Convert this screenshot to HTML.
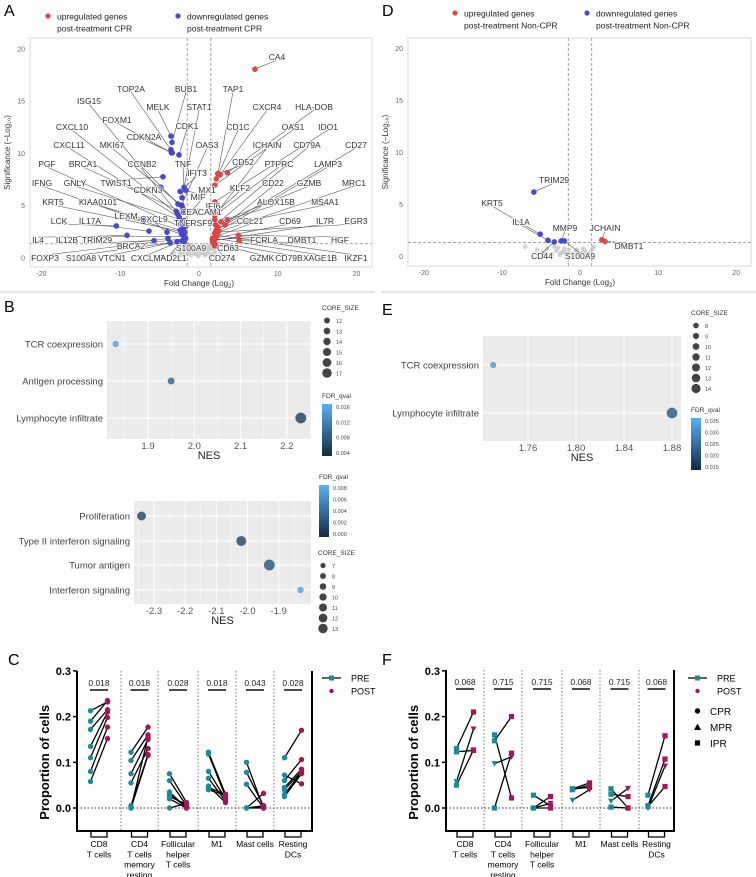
<!DOCTYPE html>
<html><head><meta charset="utf-8"><style>
html,body{margin:0;padding:0;background:#fff;}
svg{display:block;font-family:"Liberation Sans",sans-serif;}
</style></head><body>
<svg id="fig" width="756" height="877" viewBox="0 0 756 877" xmlns="http://www.w3.org/2000/svg">
<g font-size="16" fill="#000">
<text x="4" y="16">A</text>
<text x="4" y="312">B</text>
<text x="8" y="665">C</text>
<text x="382" y="16">D</text>
<text x="382" y="315">E</text>
<text x="382" y="665">F</text>
</g>
<line x1="0" y1="292" x2="375" y2="292" stroke="#ddd" stroke-width="1.5"/>
<line x1="381" y1="292" x2="756" y2="292" stroke="#ddd" stroke-width="1.5"/>
</svg>
<script>
// ---------- DATA ----------
// Panel A volcano (CPR)
const aLabeledGenes = ["CA4","TOP2A","BUB1","TAP1","ISG15","MELK","STAT1","CXCR4","HLA-DOB","CXCL10","FOXM1","CDK1","CD1C","OAS1","IDO1","CXCL11","MKI67","CDKN2A","OAS3","ICHAIN","CD79A","CD27","PGF","BRCA1","CCNB2","TNF","CD52","PTPRC","LAMP3","IFNG","GNLY","TWIST1","IFIT3","MX1","KLF2","CD22","GZMB","MRC1","KRT5","KIAA0101","CDKN3","MIF","IFI6","ALOX15B","MS4A1","LCK","IL17A","LEXM","CXCL9","CEACAM1","TNFRSF9","CCL21","CD69","IL7R","EGR3","IL4","IL12B","TRIM29","BRCA2","FCRLA","DMBT1","HGF","CD83","FOXP3","S100A8","VTCN1","CXCL13","MAD2L1","S100A9","CD274","GZMK","CD79B","XAGE1B","IKZF1"];
const aLabeledFC = [7.1,-3.56,-3.43,2.4,-2.9,-3.56,-2.16,2.7,3.6,-2.67,-3.5,-2.54,2.2,2.0,2.0,-2.5,-2.16,-3.4,-2.2,2.3,2.1,2.2,-2.0,-2.03,-2.67,-1.9,2.4,2.0,2.5,-2.2,-1.9,-4.57,-2.4,-2.3,2.0,3.3,2.8,2.0,-1.8,-2.4,-4.83,-1.65,2.0,3.6,2.4,-10.5,-6.35,-6.98,-4.06,-2.0,-1.7,2.2,1.7,1.8,2.1,-1.9,-9.14,-5.71,-3.94,2.0,5.1,5.0,2.0,-1.7,-3.68,-2.79,-2.1,-1.8,-1.9,2.0,1.9,1.7,2.1,2.3];
const aLabeledSig = [18.0,10.3,11.0,8.0,4.4,11.6,5.7,7.9,8.1,4.1,10.0,9.8,7.5,6.9,5.3,3.8,4.9,10.0,5.0,4.3,3.1,2.6,2.8,4.3,5.1,6.7,8.0,4.0,2.5,2.2,3.5,7.7,6.3,3.2,4.2,3.1,3.4,2.3,2.4,2.6,6.7,6.4,3.6,3.6,2.9,3.0,2.5,3.5,2.4,4.6,3.0,2.0,1.8,1.6,2.4,2.0,2.1,1.6,1.8,1.7,1.6,2.1,1.2,1.8,1.4,1.5,1.6,1.9,1.5,1.1,1.3,1.5,1.8,2.1];
const aGreyFC = [-3.2,-2.8,-2.5,-2.2,-1.9,-1.6,-1.3,-1.0,-0.7,-0.4,-0.1,0.2,0.5,0.8,1.1,1.4,1.7,-2.6,-2.0,-1.5,-0.9,-0.3,0.4,1.0,1.5,-1.8,-1.2,-0.6,0.1,0.7,1.3,-2.3,-1.1,0.3,1.2,-3.5,2.0,1.8,-1.4,0.6];
const aGreySig = [0.4,0.8,0.3,0.9,0.6,1.0,0.5,0.2,0.7,0.3,0.1,0.4,0.8,0.2,0.6,0.9,0.3,0.1,0.2,0.3,1.1,0.6,0.5,0.9,0.1,1.2,0.9,0.4,0.7,0.3,1.1,0.5,0.7,1.0,0.4,0.2,0.5,0.8,1.25,1.15];
// Panel D volcano (Non-CPR)
const dLabeledGenes = ["TRIM29","KRT5","IL1A","CD44","MMP9","S100A9","JCHAIN","DMBT1"];
const dLabeledFC = [-5.9,-5.1,-4.1,-3.3,-2.4,-2.0,2.8,3.2];
const dLabeledSig = [6.15,2.1,1.5,1.35,1.45,1.45,1.55,1.4];
const dGreyFC = [-7.0,-5.5,-4.8,-4.2,-3.6,-3.0,-2.6,-2.2,-1.8,-1.4,-1.0,-0.6,-0.2,0.2,0.6,1.0,1.4,1.8,-3.3,-2.8,-2.0,-1.2,-0.4,0.4,1.2,-4.5,-1.6,0.8,1.6,-2.4];
const dGreySig = [0.9,0.6,0.3,0.7,0.2,0.5,0.1,0.4,0.3,0.6,0.2,0.4,0.1,0.3,0.5,0.2,0.4,0.9,0.9,0.8,0.7,0.1,0.6,0.7,0.1,0.2,0.2,0.3,0.7,0.3];
// Panel B top GSEA
const bTopTerms = ["TCR coexpression","Antigen processing","Lymphocyte infiltrate"];
const bTopNES = [1.83,1.95,2.23];
const bTopFDR = [0.016,0.009,0.004];
const bTopCore = [12,13,17];
// Panel B bottom
const bBotTerms = ["Proliferation","Type II interferon signaling","Tumor antigen","Interferon signaling"];
const bBotNES = [-2.34,-2.02,-1.93,-1.83];
const bBotFDR = [0.002,0.002,0.003,0.008];
const bBotCore = [11,12,13,8];
// Panel E
const eTerms = ["TCR coexpression","Lymphocyte infiltrate"];
const eNES = [1.731,1.88];
const eFDR = [0.036,0.022];
const eCore = [8,14];
// Panel C
const cellTypes = [["CD8","T cells"],["CD4","T cells","memory","resting"],["Follicular","helper","T cells"],["M1"],["Mast cells"],["Resting","DCs"]];
const cPvals = ["0.018","0.018","0.028","0.018","0.043","0.028"];
const cPre = [[.213,.19,.172,.135,.11,.08,.058],[.122,.104,.075,.055,.005,0,0],[.075,.06,.035,.03,.025,.02,0],[.122,.118,.08,.065,.048,.045,.04],[.1,.078,.052,0,0,0,0],[.11,.072,.06,.045,.04,.03,.025]];
const cPost = [[.232,.235,.215,.21,.198,.177,.152],[.177,.16,.15,.13,.117,.155,.115],[.012,.005,0,.002,.008,0,.01],[.03,.025,.02,.015,.012,.03,.028],[0,.005,0,.032,.005,.003,0],[.17,.053,.106,.085,.08,.078,.075]];
// Panel F
const fPvals = ["0.068","0.715","0.715","0.068","0.715","0.068"];
const fPre = [[.13,.123,.058,.05],[.147,.16,.097,0],[.028,0,0,0],[.042,.042,.017,.04],[.042,.03,.015,.002],[.028,.005,0,.003]];
const fPost = [[.21,.126,.173,.127],[.2,.022,.112,.12],[.005,.025,.01,0],[.055,.045,.04,.05],[0,.025,.043,0],[.158,.107,.092,.047]];
const fShapes = ["square","square","triangle","square"];
const yTicks = [0,0.1,0.2,0.3];

// ---------- HELPERS ----------
const NS="http://www.w3.org/2000/svg";
const svg=document.getElementById('fig');
function mk(tag,attrs,parent,name){
  const el=document.createElementNS(NS,tag);
  for(const k in attrs) el.setAttribute(k,attrs[k]);
  
  
  (parent||svg).appendChild(el);
  return el;
}
function txt(s,x,y,attrs,parent,name){const t=mk('text',Object.assign({x:x,y:y},attrs),parent,name);t.textContent=s;return t;}

// ---------- VOLCANO ----------
function volcano(o){
  const g=mk('g',{},svg,o.name);
  const xs=v=>o.x0+v*o.kx, ys=v=>o.y0-v*o.ky;
  mk('rect',{x:o.bx0,y:o.by0,width:o.bx1-o.bx0,height:o.by1-o.by0,fill:'#fff',stroke:'#d9d9d9','stroke-width':1},g,'plot-area');
  [-20,-10,0,10,20].forEach(v=>{txt(String(v),xs(v),o.by1+9,{'font-size':7,fill:'#666','text-anchor':'middle'},g,'x-tick-label');});
  [0,5,10,15,20].forEach(v=>{txt(String(v),o.bx0-5,ys(v)+3,{'font-size':7,fill:'#666','text-anchor':'end'},g,'y-tick-label');});
  const xt=txt('Fold Change (Log',xs(0),o.by1+19,{'font-size':8,fill:'#333','text-anchor':'middle'},g,'x-axis-title');
  const sub=document.createElementNS(NS,'tspan');sub.setAttribute('font-size','6');sub.setAttribute('dy','2');sub.textContent='2';xt.appendChild(sub);
  const sub2=document.createElementNS(NS,'tspan');sub2.setAttribute('dy','-2');sub2.textContent=')';xt.appendChild(sub2);
  const cy=(o.by0+o.by1)/2;
  txt('Significance (\u2212Log\u2081\u2080)',o.bx0-20,cy,{'font-size':8,fill:'#333','text-anchor':'middle',transform:`rotate(-90 ${o.bx0-20} ${cy})`},g,'y-axis-title');
  [-1.5,1.5].forEach(v=>mk('line',{x1:xs(v),x2:xs(v),y1:o.by0,y2:o.by1,stroke:'#888','stroke-dasharray':'3,2','stroke-width':0.8},g,'fold-threshold-line'));
  mk('line',{x1:o.bx0,x2:o.bx1,y1:ys(1.3),y2:ys(1.3),stroke:'#888','stroke-dasharray':'3,2','stroke-width':0.8},g,'significance-threshold-line');
  o.gfc.forEach((v,i)=>mk('circle',{cx:xs(v),cy:ys(o.gsig[i]),r:2.3,fill:'#c8c8c8','fill-opacity':0.8},g,'gene-point-ns'));
  o.lfc.forEach((v,i)=>{
    const p=[xs(v),ys(o.lsig[i])], l=o.lpos[i];
    mk('line',{x1:p[0],y1:p[1],x2:l[0],y2:l[1]+(l[1]<p[1]?3:-3),stroke:'#555','stroke-width':0.6},g,'leader-line');
  });
  o.lfc.forEach((v,i)=>mk('circle',{cx:xs(v),cy:ys(o.lsig[i]),r:2.6,fill:v<0?'#4a4ad0':'#e04848',stroke:v<0?'#3333aa':'#b33','stroke-width':0.4},g,v<0?'down-gene-point':'up-gene-point'));
  o.lfc.forEach((v,i)=>{const l=o.lpos[i];const t=txt(o.lnames[i],l[0],l[1]+3,{'font-size':8.5,fill:'#333','text-anchor':'middle'},g,'gene-label');t.setAttribute('paint-order','stroke');t.setAttribute('stroke','#fff');t.setAttribute('stroke-width','1.5');});
  mk('circle',{cx:o.leg[0],cy:o.leg[1],r:2.6,fill:'#e04848'},g,'legend-up-marker');
  txt('upregulated genes',o.leg[0]+9,o.leg[1]+3.5,{'font-size':8.5,fill:'#222'},g,'legend-up-label');
  txt(o.upTxt,o.leg[0]+9,o.leg[1]+15.5,{'font-size':8.5,fill:'#222'},g,'legend-up-label-line2');
  mk('circle',{cx:o.leg[2],cy:o.leg[1],r:2.6,fill:'#4a4ad0'},g,'legend-down-marker');
  txt('downregulated genes',o.leg[2]+9,o.leg[1]+3.5,{'font-size':8.5,fill:'#222'},g,'legend-down-label');
  txt(o.dnTxt,o.leg[2]+9,o.leg[1]+15.5,{'font-size':8.5,fill:'#222'},g,'legend-down-label-line2');
}
const aLabelPos=[[277,57],[131,89],[186,89],[233,89],[89,101],[158,107],[199,107],[267,107],[314,107],[72,127],[117,120],[187,126],[238,127],[293,127],[328,127],[69,145],[112,145],[144,137],[207,145],[267,145],[307,145],[356,145],[47,164],[83,164],[142,164],[183,164],[243,162],[279,164],[328,164],[42,183],[75,183],[116,183],[197,173],[207,190],[240,188],[273,183],[309,183],[354,183],[53,202],[98,202],[148,190],[198,197],[213,206],[276,202],[325,202],[59,221],[90,221],[126,216],[154,219],[201,212],[193,223],[250,221],[290,221],[325,221],[356,221],[38,240],[67,240],[97,240],[131,246],[264,240],[302,240],[340,240],[228,248],[45,258],[81,258],[112,258],[147,258],[170,258],[191,248],[222,258],[262,258],[289,258],[320,258],[356,258]];
volcano({name:'volcano-a',x0:199,kx:7.875,y0:257.3,ky:10.45,bx0:30,bx1:372,by0:38,by1:267,gfc:aGreyFC,gsig:aGreySig,lfc:aLabeledFC,lsig:aLabeledSig,lnames:aLabeledGenes,lpos:aLabelPos,leg:[48,16,178],upTxt:'post-treatment  CPR',dnTxt:'post-treatment CPR'});
const dLabelPos=[[554,180],[492,203],[521,222],[542,256],[565,228],[580,256],[605,228],[629,246]];
volcano({name:'volcano-d',x0:580,kx:7.81,y0:256,ky:10.4,bx0:408,bx1:751,by0:38,by1:266,gfc:dGreyFC,gsig:dGreySig,lfc:dLabeledFC,lsig:dLabeledSig,lnames:dLabeledGenes,lpos:dLabelPos,leg:[455,13,587],upTxt:'post-treatment Non-CPR',dnTxt:'post-treatment Non-CPR'});

// ---------- DOT PLOTS ----------
function lerpCol(t){
  const a=[19,43,67],b=[86,177,247];
  return 'rgb('+a.map((v,i)=>Math.round(v+(b[i]-v)*t)).join(',')+')';
}
function ptCol(t){ // point colours appear slightly washed out
  const a=[58,76,96],b=[100,182,245];
  return 'rgb('+a.map((v,i)=>Math.round(v+(b[i]-v)*t)).join(',')+')';
}
function dotplot(o){
  const g=mk('g',{},svg,o.name);
  const xs=v=>o.tx0+(v-o.t0)*o.k;
  mk('rect',{x:o.x0,y:o.y0,width:o.x1-o.x0,height:o.y1-o.y0,fill:'#ebebeb'},g,'plot-panel');
  o.ticks.forEach((v,i)=>{
    mk('line',{x1:xs(v),x2:xs(v),y1:o.y0,y2:o.y1,stroke:'#fff','stroke-width':0.9},g,'grid-major-x');
    if(i<o.ticks.length-1){const m=xs((v+o.ticks[i+1])/2);mk('line',{x1:m,x2:m,y1:o.y0,y2:o.y1,stroke:'#fff','stroke-width':0.4},g,'grid-minor-x');}
    txt(o.tlabels[i],xs(v),o.y1+10,{'font-size':9.5,fill:'#555','text-anchor':'middle'},g,'x-tick-label');
  });
  const m0=xs(o.ticks[0]-(o.ticks[1]-o.ticks[0])/2); if(m0>o.x0) mk('line',{x1:m0,x2:m0,y1:o.y0,y2:o.y1,stroke:'#fff','stroke-width':0.4},g,'grid-minor-x');
  const ml=xs(o.ticks[o.ticks.length-1]+(o.ticks[1]-o.ticks[0])/2); if(ml<o.x1) mk('line',{x1:ml,x2:ml,y1:o.y0,y2:o.y1,stroke:'#fff','stroke-width':0.4},g,'grid-minor-x');
  txt('NES',(o.x0+o.x1)/2,o.y1+20,{'font-size':11,fill:'#222','text-anchor':'middle'},g,'x-axis-title');
  o.terms.forEach((t,i)=>{
    const y=o.rows[i];
    mk('line',{x1:o.x0,x2:o.x1,y1:y,y2:y,stroke:'#fff','stroke-width':0.9},g,'grid-major-y');
    txt(t,o.x0-4,y+3.5,{'font-size':9.5,fill:'#444','text-anchor':'end'},g,'term-label');
  });
  o.nes.forEach((v,i)=>{
    const r=o.rmin+(o.core[i]-o.cmin)*o.rk;
    mk('circle',{cx:xs(v),cy:o.rows[i],r:r,fill:ptCol((o.fdr[i]-o.fmin)/(o.fmax-o.fmin)),stroke:'#555','stroke-width':0.3},g,'term-point');
  });
}
dotplot({name:'gsea-b-up',x0:107,x1:311,y0:321,y1:439,t0:1.9,tx0:148,k:463,ticks:[1.9,2.0,2.1,2.2],tlabels:['1.9','2.0','2.1','2.2'],terms:bTopTerms,rows:[344,381,418],nes:bTopNES,fdr:bTopFDR,core:bTopCore,fmin:0.001,fmax:0.016,cmin:12,rmin:2.8,rk:0.5});
dotplot({name:'gsea-b-down',x0:134,x1:311,y0:501,y1:604,t0:-2.3,tx0:154,k:311.7,ticks:[-2.3,-2.2,-2.1,-2.0,-1.9],tlabels:['-2.3','-2.2','-2.1','-2.0','-1.9'],terms:bBotTerms,rows:[516,541,565,590],nes:bBotNES,fdr:bBotFDR,core:bBotCore,fmin:0,fmax:0.008,cmin:8,rmin:2.8,rk:0.5});
dotplot({name:'gsea-e',x0:483,x1:681,y0:336,y1:441,t0:1.76,tx0:528,k:1200,ticks:[1.76,1.80,1.84,1.88],tlabels:['1.76','1.80','1.84','1.88'],terms:eTerms,rows:[365,413],nes:eNES,fdr:eFDR,core:eCore,fmin:0.012,fmax:0.037,cmin:8,rmin:2.8,rk:0.4});

function sizeLegend(x,y,vals,rmin,rk,name){
  const g=mk('g',{},svg,name);
  txt('CORE_SIZE',x-5,y,{'font-size':6.5,fill:'#333'},g,'legend-title');
  vals.forEach((v,i)=>{const cy=y+10.5+i*10.5;mk('circle',{cx:x,cy:cy,r:rmin+i*rk,fill:'#444'},g,'legend-size-dot');txt(String(v),x+9,cy+2.3,{'font-size':5.5,fill:'#444'},g,'legend-size-label');});
}
function colorLegend(x,y,h,labels,name){
  const g=mk('g',{},svg,name);
  txt('FDR_qval',x,y,{'font-size':6.5,fill:'#333'},g,'legend-title');
  const id='grad'+name;
  const defs=mk('defs',{},g,'gradient-defs');
  const lg=mk('linearGradient',{id:id,x1:0,y1:0,x2:0,y2:1},defs,'gradient');
  mk('stop',{offset:'0','stop-color':lerpCol(1)},lg,'gradient-stop');
  mk('stop',{offset:'1','stop-color':lerpCol(0)},lg,'gradient-stop');
  mk('rect',{x:x,y:y+6,width:10,height:h,fill:`url(#${id})`},g,'colorbar');
  labels.forEach((l,i)=>{const yy=y+9+i*(h-6)/(labels.length-1);txt(l,x+14,yy+2,{'font-size':5.5,fill:'#444'},g,'colorbar-label');});
}
sizeLegend(327,310,[12,13,14,15,16,17],3,0.35,'legend-core-size-b-up');
colorLegend(322,398,52,['0.016','0.012','0.008','0.004'],'legend-fdr-b-up');
colorLegend(319,479,52,['0.008','0.006','0.004','0.002','0.000'],'legend-fdr-b-down');
sizeLegend(323,555,[7,8,9,10,11,12,13],2.6,0.35,'legend-core-size-b-down');
sizeLegend(696,315,[8,9,10,11,12,13,14],2.8,0.3,'legend-core-size-e');
colorLegend(691,412,52,['0.035','0.030','0.025','0.020','0.015'],'legend-fdr-e');

// ---------- PAIRED PLOTS ----------
const TEAL='#1b8a9a', MAROON='#a3155b';
function marker(g,shape,x,y,col,name){
  if(shape==='square') return mk('rect',{x:x-2.6,y:y-2.6,width:5.2,height:5.2,fill:col},g,name);
  if(shape==='triangle') return mk('polygon',{points:`${x},${y+3} ${x-3},${y-2.5} ${x+3},${y-2.5}`,fill:col},g,name);
  if(shape==='triangle-up') return mk('polygon',{points:`${x},${y-3.5} ${x-3.5},${y+3} ${x+3.5},${y+3}`,fill:col},g,name);
  return mk('circle',{cx:x,cy:y,r:2.7,fill:col},g,name);
}
function paired(o){
  const g=mk('g',{},svg,o.name);
  const ys=v=>o.yz-v*o.ky;
  const bounds=[o.ax].concat(o.div).concat([o.right]);
  o.div.forEach(x=>mk('line',{x1:x,x2:x,y1:o.top,y2:o.bot,stroke:'#555','stroke-dasharray':'1.5,2','stroke-width':0.8},g,'group-divider'));
  mk('line',{x1:o.ax,x2:o.right,y1:ys(0),y2:ys(0),stroke:'#333','stroke-dasharray':'1.5,2','stroke-width':1},g,'zero-line');
  mk('polyline',{points:`${o.ax},${o.top} ${o.ax},${o.bot} ${o.right},${o.bot} ${o.right},${o.top}`,fill:'none',stroke:'#000','stroke-width':2},g,'axis-frame');
  yTicks.forEach(v=>{mk('line',{x1:o.ax-4,x2:o.ax,y1:ys(v),y2:ys(v),stroke:'#000','stroke-width':1.5},g,'y-tick');txt(v.toFixed(1),o.ax-6,ys(v)+4,{'font-size':11,'font-weight':'bold','text-anchor':'end'},g,'y-tick-label');});
  const cy=ys(0.1);
  txt('Proportion of cells',o.ax-28,cy,{'font-size':13,'font-weight':'bold','text-anchor':'middle',transform:`rotate(-90 ${o.ax-28} ${cy})`},g,'y-axis-title');
  cellTypes.forEach((lines,i)=>{
    const c=(bounds[i]+bounds[i+1])/2;
    mk('polyline',{points:`${c-8},${o.bot+1} ${c-8},${o.bot+6} ${c+8},${o.bot+6} ${c+8},${o.bot+1}`,fill:'none',stroke:'#000','stroke-width':1.3},g,'category-tick-box');
    lines.forEach((l,j)=>txt(l,c,o.bot+16+j*10.3,{'font-size':8.5,'text-anchor':'middle'},g,'category-label'));
    txt(o.pvals[i],c,o.top+15,{'font-size':8.5,'text-anchor':'middle',fill:'#222'},g,'p-value-label');
    mk('line',{x1:c-9,x2:c+9,y1:o.top+19,y2:o.top+19,stroke:'#333','stroke-width':1.8},g,'p-value-bar');
    o.pre[i].forEach((v,k)=>mk('line',{x1:c-8.5,y1:ys(v),x2:c+8.5,y2:ys(o.post[i][k]),stroke:'#000','stroke-width':1.3},g,'pair-line'));
    o.pre[i].forEach((v,k)=>marker(g,o.shapes?o.shapes[k]:'circle',c-8.5,ys(v),TEAL,'pre-point'));
    o.post[i].forEach((v,k)=>marker(g,o.shapes?o.shapes[k]:'circle',c+8.5,ys(o.post[i][k]),MAROON,'post-point'));
  });
  const L=o.leg;
  mk('line',{x1:L[0],x2:L[0]+19,y1:L[1],y2:L[1],stroke:'#000','stroke-width':1.3},g,'legend-pre-line');
  mk('rect',{x:L[0]+7,y:L[1]-2.5,width:5,height:5,fill:TEAL},g,'legend-pre-marker');
  txt('PRE',L[0]+29,L[1]+3.5,{'font-size':9},g,'legend-pre-label');
  mk('circle',{cx:L[0]+9.5,cy:L[1]+13,r:2.2,fill:MAROON},g,'legend-post-marker');
  txt('POST',L[0]+29,L[1]+16.5,{'font-size':9},g,'legend-post-label');
  if(o.shapes){
    const sh=[['circle','CPR'],['triangle-up','MPR'],['square','IPR']];
    sh.forEach((s,i)=>{const y=L[1]+33+i*16;marker(g,s[0],L[0]+9.5,y,'#000','legend-'+s[1].toLowerCase()+'-marker');txt(s[1],L[0]+22,y+4,{'font-size':10},g,'legend-'+s[1].toLowerCase()+'-label');});
  }
}
paired({name:'paired-plot-c',ax:77,right:312,top:671,bot:831,yz:808,ky:457,div:[121,158,198,236,274],pre:cPre,post:cPost,pvals:cPvals,leg:[322,678]});
paired({name:'paired-plot-f',ax:446,right:674,top:670,bot:831,yz:808,ky:457,div:[484,522,562,600,639],pre:fPre,post:fPost,pvals:fPvals,shapes:fShapes,leg:[688,678]});
</script>
</body></html>
